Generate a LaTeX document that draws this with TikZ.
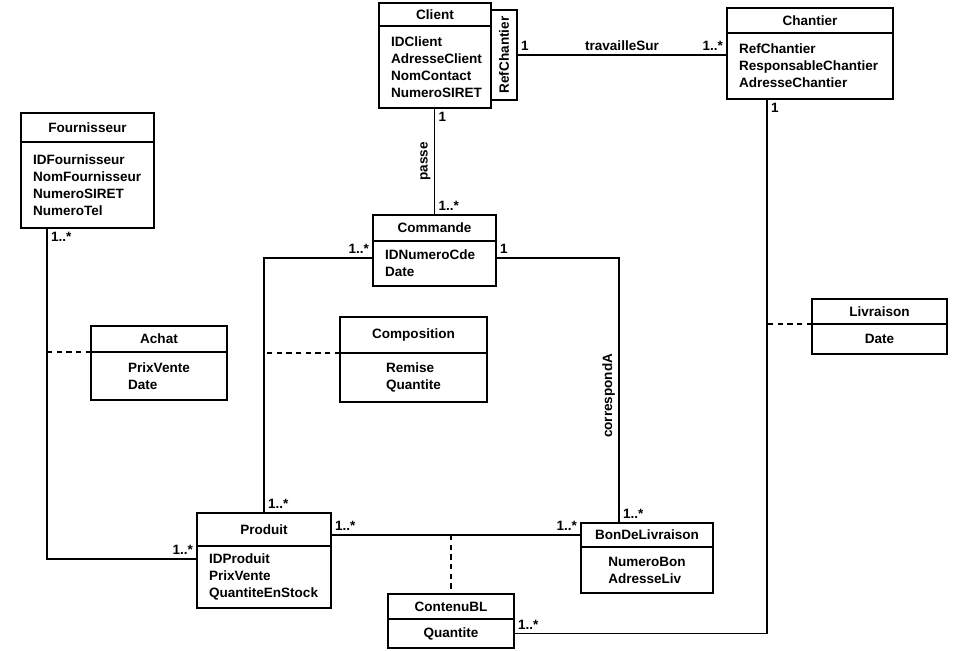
\documentclass[tikz,border=0pt]{standalone}
\usepackage{fontspec}
\setmainfont{Liberation Sans}
\usetikzlibrary{positioning}
\tikzset{every node/.style={font=\bfseries\fontsize{7.7}{9.6}\selectfont},
    classhead/.style=
    { % Title part of a class
        draw,
        line width=0.7pt,
        outer sep=0pt,
        inner sep=0pt
    },
    classbody/.style={ % Attribute part of a class
        draw,
        line width=0.7pt,
        outer sep=0pt,
        inner xsep=0.24cm,
        inner ysep=0pt,
        align=left
    },
    assoc/.style={line width=0.7pt}, % Plain association
    dashlink/.style={line width=0.7pt,dash pattern=on 3pt off 2.5pt}, % Association class link
    mult/.style={inner sep=2pt}
}

\begin{document}
\begin{tikzpicture}
\useasboundingbox (0,0) rectangle (19.08,-13.02);

\node [classhead,minimum width=2.24cm,minimum height=0.46cm] (clienthead) at (8.70,-0.29) {Client};
\node [classbody,text width=1.76cm,minimum height=1.64cm,below=0pt of clienthead] (clientbody)
    {IDClient\\AdresseClient\\NomContact\\NumeroSIRET};
\node [classhead,rotate=90,minimum width=1.8cm,minimum height=0.52cm] (refch) at (10.08,-1.10) {RefChantier};

\node [classhead,minimum width=3.32cm,minimum height=0.50cm] (chantierhead) at (16.20,-0.41) {Chantier};
\node [classbody,text width=2.84cm,minimum height=1.32cm,below=0pt of chantierhead] (chantierbody)
    {RefChantier\\ResponsableChantier\\AdresseChantier};

\node [classhead,minimum width=2.66cm,minimum height=0.58cm] (fournhead) at (1.75,-2.55) {Fournisseur};
\node [classbody,text width=2.18cm,minimum height=1.72cm,below=0pt of fournhead] (fournbody)
    {IDFournisseur\\NomFournisseur\\NumeroSIRET\\NumeroTel};

\node [classhead,minimum width=2.46cm,minimum height=0.52cm] (commandehead) at (8.69,-4.56) {Commande};
\node [classbody,text width=1.98cm,minimum height=0.90cm,below=0pt of commandehead] (commandebody)
    {IDNumeroCde\\Date};

\node [classhead,minimum width=2.72cm,minimum height=0.52cm] (achathead) at (3.18,-6.78) {Achat};
\node [classbody,minimum width=2.72cm,minimum height=0.96cm,below=0pt of achathead] (achatbody)
    {PrixVente\\Date};

\node [classhead,minimum width=2.94cm,minimum height=0.72cm] (compohead) at (8.27,-6.70) {Composition};
\node [classbody,minimum width=2.94cm,minimum height=0.98cm,below=0pt of compohead] (compobody)
    {Remise\\Quantite};

\node [classhead,minimum width=2.70cm,minimum height=0.50cm] (livhead) at (17.59,-6.23) {Livraison};
\node [classbody,minimum width=2.70cm,minimum height=0.60cm,below=0pt of livhead] (livbody) {Date};

\node [classhead,minimum width=2.68cm,minimum height=0.66cm] (produithead) at (5.28,-10.59) {Produit};
\node [classbody,text width=2.20cm,minimum height=1.24cm,below=0pt of produithead] (produitbody)
    {IDProduit\\PrixVente\\QuantiteEnStock};

\node [classhead,minimum width=2.64cm,minimum height=0.48cm] (bdlhead) at (12.94,-10.70) {BonDeLivraison};
\node [classbody,minimum width=2.64cm,minimum height=0.92cm,below=0pt of bdlhead] (bdlbody)
    {NumeroBon\\AdresseLiv};

\node [classhead,minimum width=2.52cm,minimum height=0.50cm] (contenuhead) at (9.02,-12.13) {ContenuBL};
\node [classbody,minimum width=2.52cm,minimum height=0.58cm,below=0pt of contenuhead] (contenubody) {Quantite};

\coordinate (fournline) at ([xshift=0.52cm]fournbody.south west);
\coordinate (chantierline) at ([xshift=0.8cm]chantierbody.south west);

\draw[assoc] (refch.south) -- (refch.south -| chantierbody.west)
    node[mult,pos=0,above right] {1}
    node[mult,midway,above] {travailleSur}
    node[mult,pos=1,above left] {1..*};

\draw[assoc] (commandehead.north |- clientbody.south) -- (commandehead.north)
    node[mult,pos=0,below right] {1}
    node[mult,midway,rotate=90,anchor=south] {passe}
    node[mult,pos=1,above right] {1..*};

\draw[assoc] ([yshift=0.11cm]commandebody.west) -| (produithead.north)
    node[mult,pos=0,above left] {1..*}
    node[mult,pos=1,above right] {1..*};

\draw[assoc] ([yshift=0.11cm]commandebody.east) -| ([xshift=0.76cm]bdlhead.north west)
    node[mult,pos=0,above right] {1}
    node[mult,pos=0.76,rotate=90,anchor=south] {correspondA}
    node[mult,pos=1,above right] {1..*};

\draw[assoc] (fournline) |- ([yshift=0.36cm]produitbody.west)
    node[mult,pos=0,below right] {1..*}
    node[mult,pos=1,above left] {1..*};

\draw[assoc] (chantierline) |- (contenubody.east)
    node[mult,pos=0,below right] {1}
    node[mult,pos=1,above right] {1..*};

\draw[assoc] (bdlhead.west -| produithead.east) -- (bdlhead.west)
    node[mult,pos=0,above right] {1..*}
    node[mult,pos=1,above left] {1..*};

% links of the association classes
\draw[dashlink] (achathead.south west) -- (achathead.south west -| fournline);
\draw[dashlink] (compohead.south west) -- (compohead.south west -| produithead.north);
\draw[dashlink] (livhead.south west) -- (livhead.south west -| chantierline);
\draw[dashlink] (contenuhead.north |- bdlhead.west) -- (contenuhead.north);
\end{tikzpicture}
\end{document}
